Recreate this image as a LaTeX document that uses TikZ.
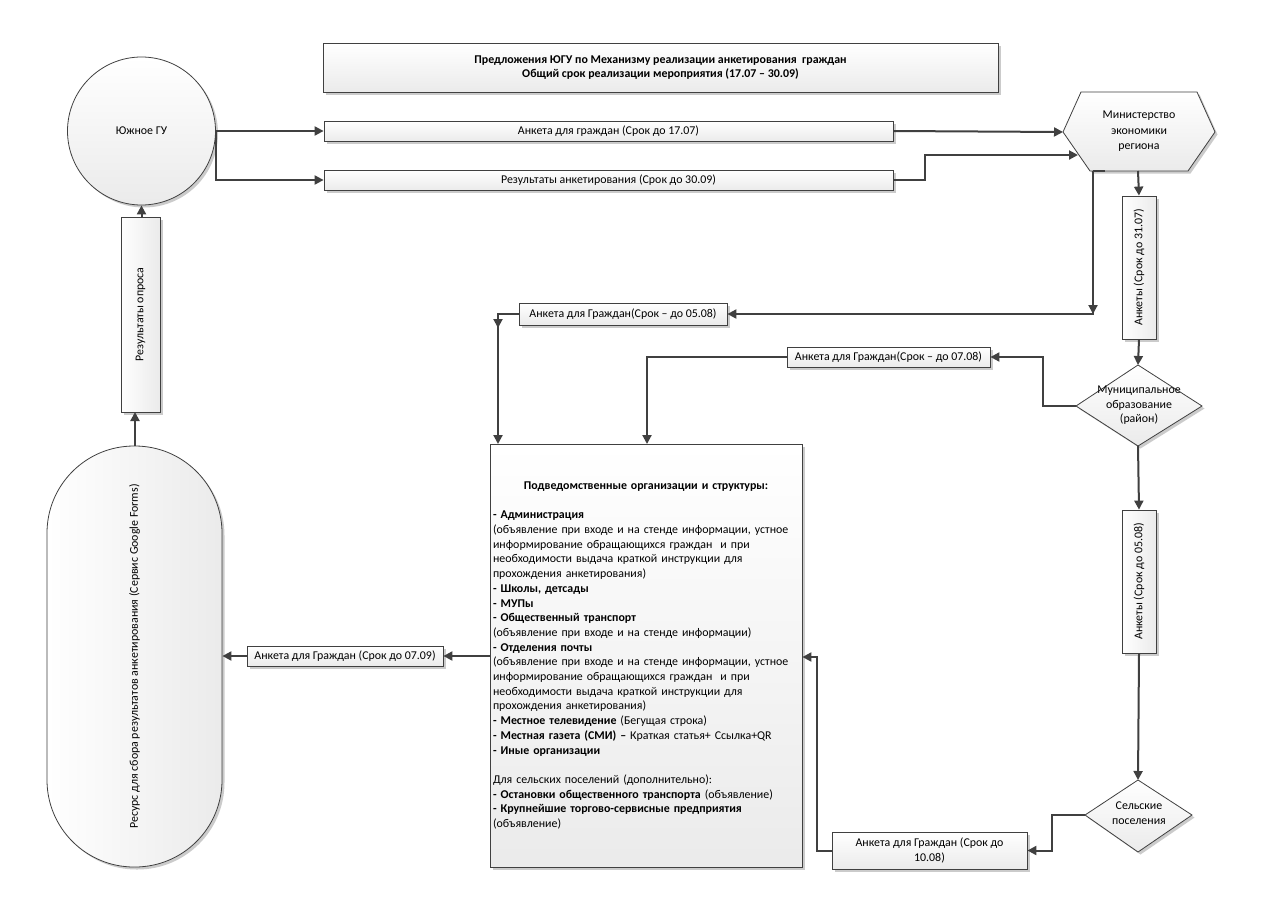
\documentclass[tikz,border=0pt]{standalone}
\usepackage{fontspec}
\setmainfont{Carlito}
\usepackage{graphicx}
\usetikzlibrary{arrows.meta,shadows,calc}
\definecolor{ln}{HTML}{404040}
\begin{document}
\begin{tikzpicture}[x=1pt,y=-1pt,
  conn/.style={draw=ln,line width=2pt,-{Triangle[length=9pt,width=9pt]}},
  shd/.style={drop shadow={shadow xshift=2.5pt,shadow yshift=-2.5pt,fill=black!45,opacity=.45}},
  bx/.style={draw=ln,line width=0.8pt,top color=white,bottom color=black!8,shd,
    inner sep=0pt,align=center,font=\fontsize{11.9}{14}\selectfont},
  vbx/.style={bx,left color=white,right color=black!8},
  shapeline/.style={draw=ln,line width=0.8pt,top color=white,bottom color=black!8,shd},
  lbl/.style={inner sep=0pt,align=center,font=\fontsize{11.9}{14.5}\selectfont}
]
\useasboundingbox (0,0) rectangle (1287,910);
\fill[white] (0,0) rectangle (1287,910);

% title
\node[bx,minimum width=675pt,minimum height=49pt,font=\bfseries\fontsize{11.9}{14}\selectfont] (title) at (660.5,67.5)
  {Предложения ЮГУ по Механизму реализации анкетирования\ \ граждан\\Общий срок реализации мероприятия (17.07 – 30.09)};

% circle
\node[bx,circle,minimum size=148pt] (yugu) at (141.5,131) {Южное ГУ};

% top boxes
\node[bx,minimum width=569pt,minimum height=20pt] (b1707) at (608.5,131) {Анкета для граждан (Срок до 17.07)};
\node[bx,minimum width=569pt,minimum height=20pt] (b3009) at (608.5,180) {Результаты анкетирования (Срок до 30.09)};

% hexagon
\coordinate (hL) at (1063,132);
\coordinate (hTL) at (1081,92);
\coordinate (hTR) at (1197,92);
\coordinate (hR) at (1215,132);
\coordinate (hBR) at (1188,171);
\coordinate (hBL) at (1090,171);
\path[shapeline] (hL) -- (hTL) -- (hTR) -- (hR) -- (hBR) -- (hBL) -- cycle;
\node[lbl,font=\fontsize{11.9}{15.5}\selectfont] (hex) at (1139,131.5) {Министерство\\экономики\\региона};

% vertical box 31.07
\node[vbx,minimum width=34pt,minimum height=143pt] (v3107) at (1139,267.5) {\rotatebox{90}{Анкеты (Срок до 31.07)}};

% municipal diamond
\coordinate (mT) at (1138,365);
\coordinate (mL) at (1076,406);
\coordinate (mR) at (1202,406);
\coordinate (mB) at (1138,446);
\path[shapeline] (mT) -- (mR) -- (mB) -- (mL) -- cycle;
\node[lbl] (mun) at (1139,405.5) {Муниципальное\\образование\\(район)};

% boxes 07.08 and 05.08
\node[bx,minimum width=203pt,minimum height=20pt] (b0708) at (888.5,357) {Анкета для Граждан(Срок – до 07.08)};
\node[bx,minimum width=208pt,minimum height=22pt] (b0508) at (623,314) {Анкета для Граждан(Срок – до 05.08)};

% big box
\node[bx,minimum width=312pt,minimum height=423pt,text width=306pt,align=left,
      font=\fontsize{11.9}{14.7}\selectfont] (big) at (646,655.5) {%
\makebox[306pt][c]{\textbf{Подведомственные организации и структуры:}}\\
~\\
\textbf{- Администрация}\\
(объявление при входе и на стенде информации, устное\\
информирование обращающихся граждан\ \ и при\\
необходимости выдача краткой инструкции для\\
прохождения анкетирования)\\
\textbf{- Школы, детсады}\\
\textbf{- МУПы}\\
\textbf{- Общественный транспорт}\\
(объявление при входе и на стенде информации)\\
\textbf{- Отделения почты}\\
(объявление при входе и на стенде информации, устное\\
информирование обращающихся граждан\ \ и при\\
необходимости выдача краткой инструкции для\\
прохождения анкетирования)\\
\textbf{- Местное телевидение} (Бегущая строка)\\
\textbf{- Местная газета (СМИ) –} Краткая статья+ Ссылка+QR\\
\textbf{- Иные организации}\\
~\\
Для сельских поселений (дополнительно):\\
\textbf{- Остановки общественного транспорта} (объявление)\\
\textbf{- Крупнейшие торгово-сервисные предприятия}\\
(объявление)};

% left box 07.09
\node[bx,minimum width=196pt,minimum height=20pt] (b0709) at (345,656) {Анкета для Граждан (Срок до 07.09)};

% stadium
\node[vbx,rounded corners=87pt,minimum width=175pt,minimum height=421pt] (res) at (134.5,656.5)
  {\rotatebox{90}{Ресурс для сбора результатов анкетирования (Сервис Google Forms)}};

% vertical box Результаты опроса
\node[vbx,minimum width=39pt,minimum height=195pt] (ropr) at (140.5,314.5) {\rotatebox{90}{Результаты опроса}};

% vertical box 05.08
\node[vbx,minimum width=34pt,minimum height=143pt] (v0508) at (1139,581.5) {\rotatebox{90}{Анкеты (Срок до 05.08)}};

% rural diamond
\coordinate (sT) at (1138,780);
\coordinate (sL) at (1085,815);
\coordinate (sR) at (1192,815);
\coordinate (sB) at (1138,852);
\path[shapeline] (sT) -- (sR) -- (sB) -- (sL) -- cycle;
\node[lbl,font=\fontsize{11.9}{15}\selectfont] (sel) at (1139,813.5) {Сельские\\поселения};

% box 10.08
\node[bx,minimum width=195pt,minimum height=37pt,font=\fontsize{11.9}{15}\selectfont] (b1008) at (929.5,850.5) {Анкета для Граждан (Срок до\\10.08)};

% ---------------- connectors ----------------
\draw[conn] (yugu.east) -- (b1707.west);
\draw[conn] (yugu.east) |- (b3009.west);
\draw[conn] (b1707.east) -- (hL);
\coordinate (hin) at (1078,155);
\draw[conn] (b3009.east) -- (925,180) |- (hin);
% hexagon -> 05.08
\coordinate (hout) at (1093,171);
\coordinate (hk) at (1093,314);
\draw[draw=ln,line width=2pt] (1105,171) -- (hout);
\draw[conn] (hout) -- (hk) -- (b0508.east);
\draw[conn] ($(hk)+(0,-12)$) -- (hk);
% hexagon -> 31.07
\draw[conn] (1138,171) -- (v3107.north);
\draw[conn] (v3107.south) -- (mT);
% municipal -> 07.08
\draw[conn] (mL) -- (1043,406) |- (b0708.east);
% 07.08 -> big
\draw[conn] (b0708.west) -| (647,444);
% 05.08 -> big
\coordinate (k05) at (498,314);
\draw[conn] (b0508.west) -- (k05) -- (498,444);
\draw[conn] (k05) -- ++(0,14);
% municipal -> 05.08 vertical
\draw[conn] (mB) -- (v0508.north);
\draw[conn] (v0508.south) -- (sT);
% rural -> 10.08
\draw[conn] (sL) -- (1052,815) |- (b1008.east);
% 10.08 -> big
\draw[conn] (b1008.west) -- (817,850.5) |- (big.east |- 0,657);
% big -> 07.09 -> resource
\draw[conn] (big.west |- 0,656) -- (b0709.east);
\draw[conn] (b0709.west) -- (res.east |- 0,656);
% resource -> Результаты опроса -> circle
\draw[conn] (135,446) -- (135,412);
\draw[conn] (ropr.north -| yugu.south) -- (yugu.south);
\end{tikzpicture}
\end{document}
